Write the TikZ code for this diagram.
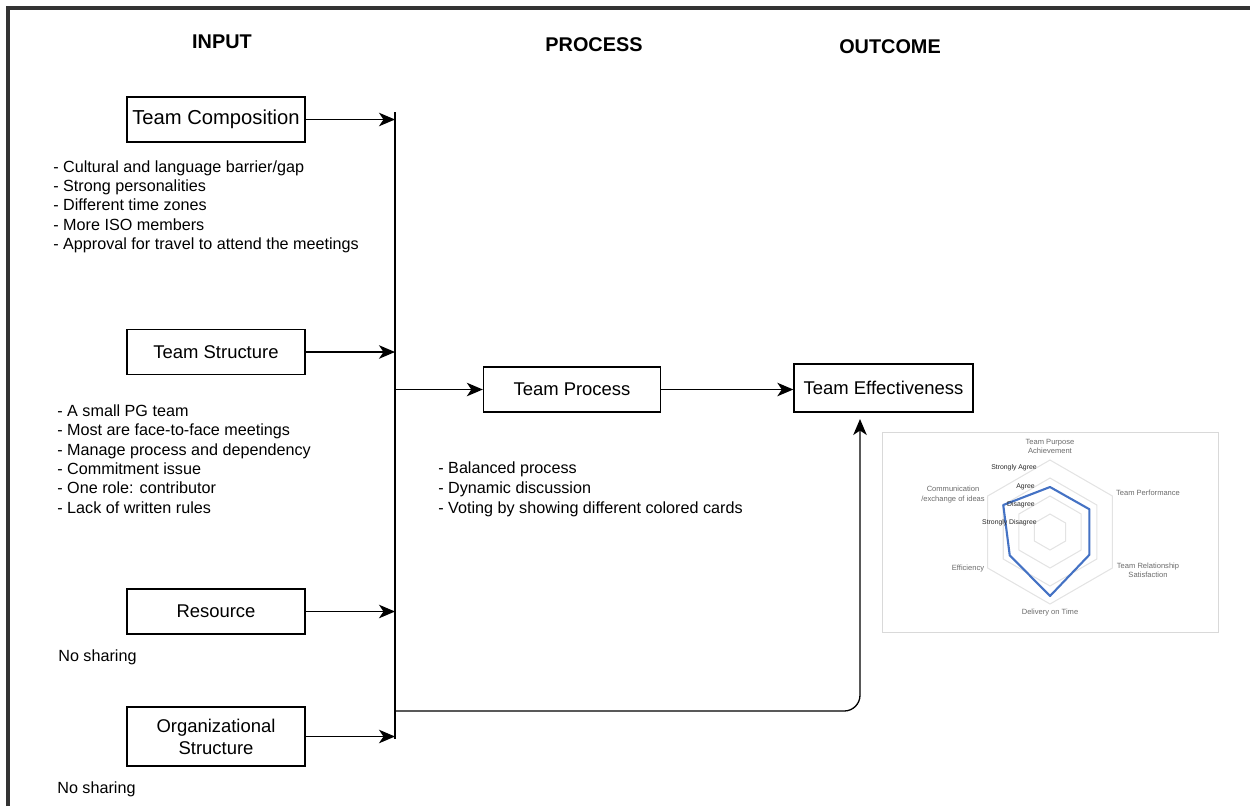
\documentclass[tikz,border=0pt]{standalone}
\usepackage{fontspec}
\setmainfont{Liberation Sans}
\usetikzlibrary{arrows.meta,calc}
\definecolor{frame}{HTML}{333333}
\definecolor{radarblue}{HTML}{4472C4}
\definecolor{ringgray}{HTML}{E3E3E3}
\definecolor{lblgray}{HTML}{6A6A6A}
\tikzset{
  boxnode/.style={draw=black,line width=0.8pt,minimum width=3.56cm,minimum height=0.9cm,inner sep=1pt,align=center,font=\fontsize{10.5}{12.6}\selectfont},
  header/.style={font=\fontsize{11.3}{13}\selectfont\bfseries},
  listline/.style={anchor=west,inner sep=0pt,text height=1.6ex,text depth=0.45ex,font=\fontsize{9.2}{11}\selectfont},
  arr/.style={-{Stealth[length=3.2mm,width=2.7mm,inset=0.9mm]},line width=0.75pt},
  tiny/.style={font=\fontsize{4.3}{5.2}\selectfont,text=lblgray,align=center,inner sep=0pt},
  ringlbl/.style={font=\fontsize{3.9}{4.5}\selectfont,text=black!85,anchor=east,inner sep=0pt},
}
\begin{document}
\begin{tikzpicture}[x=0.02cm,y=-0.02cm]
\useasboundingbox (0,0) rectangle (1250,806);
% frame
\draw[frame,line width=1.8pt] (8,806) -- (8,8) -- (1250,8);
% headers
\node[header] (hin) at (222,42) {INPUT};
\node[header] (hpr) at (594,45) {PROCESS};
\node[header] (hout) at (890,47) {OUTCOME};
% input boxes
\node[boxnode,font=\fontsize{11.5}{13.5}\selectfont] (tc) at (216,119.5) {Team Composition};
\node[boxnode] (ts) at (216,352) {Team Structure};
\node[boxnode] (rs) at (216,611.5) {Resource};
\node[boxnode,minimum height=1.18cm] (os) at (216,736.5) {Organizational\\Structure};
% process/outcome boxes
\node[boxnode,minimum width=3.54cm] (tp) at (572,389.5) {Team Process};
\node[boxnode,minimum width=3.58cm,minimum height=0.96cm] (te) at (883.5,388) {Team Effectiveness};
% lists
\foreach \t [count=\i] in {- Cultural and language barrier/gap,- Strong personalities,- Different time zones,- More ISO members,- Approval for travel to attend the meetings}
  \node[listline] (la\i) at (53,{167+19.3*(\i-1)}) {\t};
\foreach \t [count=\i] in {- A small PG team,- Most are face-to-face meetings,- Manage process and dependency,- Commitment issue,- One role: contributor,- Lack of written rules}
  \node[listline] (lb\i) at (57,{411+19.4*(\i-1)}) {\t};
\foreach \t [count=\i] in {- Balanced process,- Dynamic discussion,- Voting by showing different colored cards}
  \node[listline] (lc\i) at (438,{468+20*(\i-1)}) {\t};
\node[listline] (ns1) at (58,656) {No sharing};
\node[listline] (ns2) at (57,788) {No sharing};
% bus line
\coordinate (vtop) at (395,112);
\coordinate (vbot) at (395,739);
\draw[line width=0.8pt] (vtop) -- (vbot);
\draw[arr] (tc.east) -- (tc.east -| vtop);
\draw[arr] (ts.east) -- (ts.east -| vtop);
\draw[arr] (rs.east) -- (rs.east -| vtop);
\draw[arr] (os.east) -- (os.east -| vtop);
\draw[arr] (tp.west -| vtop) -- (tp.west);
\draw[arr] (tp.east) -- (tp.east -| te.west);
\coordinate (bstart) at (395,711);
\coordinate (teIn) at (860,419);
\draw[arr,rounded corners=9] (bstart) -| (teIn);
% radar chart picture
\draw[draw=black!15,line width=0.5pt] (882,432) rectangle (1218,632);
\coordinate (rc) at (1050,532);
\foreach \f in {0.25,0.5,0.75,1}
  \draw[ringgray,line width=0.6pt] ($(rc)+(-90:72*\f)$) -- ($(rc)+(-30:72*\f)$) -- ($(rc)+(30:72*\f)$) -- ($(rc)+(90:72*\f)$) -- ($(rc)+(150:72*\f)$) -- ($(rc)+(210:72*\f)$) -- cycle;
\draw[radarblue,line width=1.2pt,line join=round] ($(rc)+(-90:45)$) -- ($(rc)+(-30:45.5)$) -- ($(rc)+(30:45.5)$) -- ($(rc)+(90:64)$) -- ($(rc)+(150:46.5)$) -- ($(rc)+(210:54)$) -- cycle;
\node[tiny] (ax1) at (1050,446) {Team Purpose\\Achievement};
\node[tiny] (ax2) at (1148,493) {Team Performance};
\node[tiny] (ax3) at (1148,570) {Team Relationship\\Satisfaction};
\node[tiny] (ax4) at (1050,613) {Delivery on Time};
\node[tiny] (ax5) at (968,569) {Efficiency};
\node[tiny] (ax6) at (953,494.5) {Communication\\/exchange of ideas};
\node[ringlbl] (r4) at (1037,468) {Strongly Agree};
\node[ringlbl] (r3) at (1035,487) {Agree};
\node[ringlbl] (r2) at (1035,505) {Disagree};
\node[ringlbl] (r1) at (1037,523) {Strongly Disagree};
\end{tikzpicture}
\end{document}
